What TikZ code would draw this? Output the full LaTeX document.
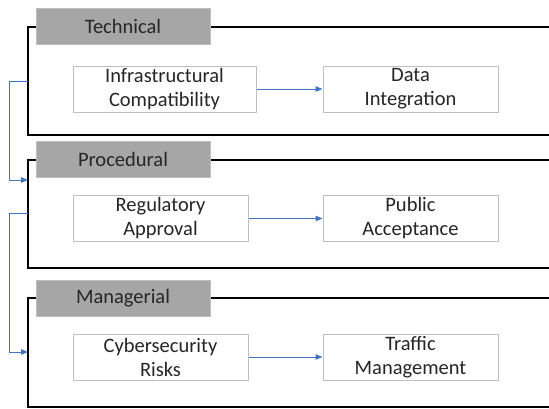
\documentclass[tikz,border=0pt]{standalone}
\usepackage{fontspec}
\setmainfont{Carlito}
\usetikzlibrary{arrows.meta}
\definecolor{headgray}{HTML}{A6A6A6}
\definecolor{edgegray}{HTML}{BFBFBF}
\definecolor{linkblue}{HTML}{4472C4}
\definecolor{textdark}{HTML}{262626}
\begin{document}
\begin{tikzpicture}[x=1pt, y=-1pt,
    header/.style={rectangle, draw=edgegray, fill=headgray, line width=1pt, minimum width=174pt, minimum height=36pt, inner sep=0pt, text=textdark, font=\fontsize{20.5}{24}\selectfont},
    itembox/.style={rectangle, draw=edgegray, fill=white, line width=1pt, minimum width=175pt, minimum height=46pt, inner sep=0pt, align=center, text=textdark, font=\fontsize{20.5}{24}\selectfont},
    frame/.style={draw=black, line width=1.5pt},
    arrow/.style={-{Triangle[length=7pt,width=5.5pt]}, draw=linkblue, line width=1pt}
]
    \useasboundingbox (0,0) rectangle (549,408);

    % frames
    \draw[frame] (549,27) -| (28,135) -- (549,135);
    \draw[frame] (549,160) -| (28,268) -- (549,268);
    \draw[frame] (549,298) -| (28,407) -- (549,407);

    % headers
    \node[header] (technical) at (123,26) {Technical};
    \node[header] (procedural) at (123,159.5) {Procedural};
    \node[header] (managerial) at (123,298) {Managerial};

    % items
    \node[itembox, minimum width=183pt] (infra) at (164.5,89) {Infrastructural\\Compatibility};
    \node[itembox] (data) at (410.5,89) {Data\\Integration};
    \node[itembox] (regul) at (160.5,218.5) {Regulatory\\Approval};
    \node[itembox] (public) at (410.5,218.5) {Public\\Acceptance};
    \node[itembox] (cyber) at (160.5,357) {Cybersecurity\\Risks};
    \node[itembox] (traffic) at (410.5,357) {Traffic\\Management};

    \draw[arrow] (infra) -- (data);
    \draw[arrow] (regul) -- (public);
    \draw[arrow] (cyber) -- (traffic);

    % links between groups
    \coordinate (techout) at (28,81);
    \coordinate (procin) at (28,180);
    \coordinate (procout) at (28,213);
    \coordinate (manin) at (28,352);
    \draw[arrow] (techout) -- (9,81) -- (9,180) -- (procin);
    \draw[arrow] (procout) -- (9,213) -- (9,352) -- (manin);
\end{tikzpicture}
\end{document}
